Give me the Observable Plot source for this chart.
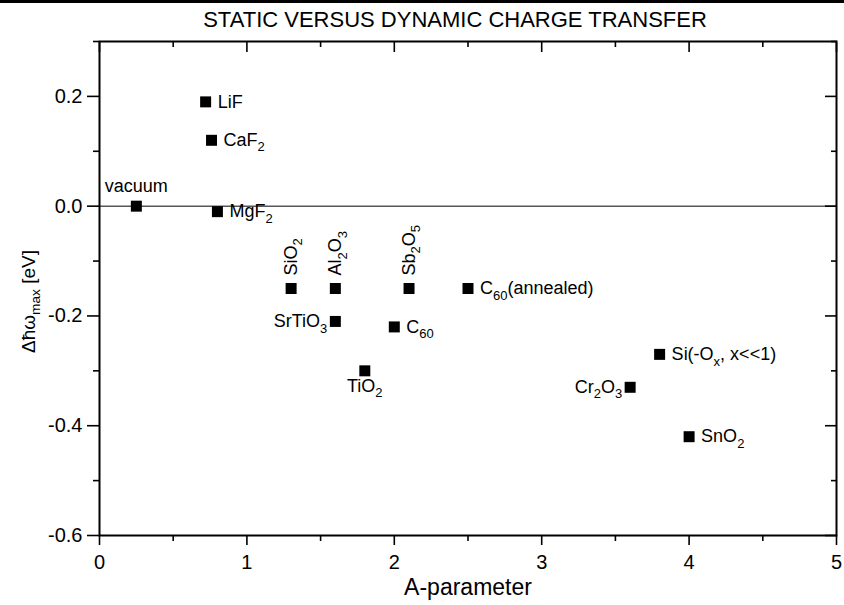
<!DOCTYPE html>
<html>
<head>
<meta charset="utf-8">
<script src="https://cdn.jsdelivr.net/npm/d3@7"></script>
<script src="https://cdn.jsdelivr.net/npm/@observablehq/plot@0.6"></script>
<style>
  body { margin: 0; background: #fff; }
  #wrap { position: relative; width: 844px; height: 605px; background: #fff; overflow: hidden;
          font-family: "Liberation Sans", Arial, Helvetica, sans-serif; color: #000; }
  #topline { position: absolute; left: 0; top: 0; width: 844px; height: 3px; background: #000; }
  #title { position: absolute; left: 455px; top: 7px; transform: translateX(-50%); white-space: nowrap;
           font-size: 22px; line-height: 26px; }
  #chart { position: absolute; left: 0; top: 31px; }
</style>
</head>
<body>
<div id="wrap">
  <div id="topline"></div>
  <div id="title">STATIC VERSUS DYNAMIC CHARGE TRANSFER</div>
  <div id="chart"></div>
</div>
<script>
// ---- data ----
const materials = ["vacuum", "LiF", "CaF_{2}", "MgF_{2}", "SiO_{2}", "Al_{2}O_{3}", "Sb_{2}O_{5}",
                   "C_{60}(annealed)", "SrTiO_{3}", "C_{60}", "TiO_{2}", "Si(-O_{x}, x<<1)", "Cr_{2}O_{3}", "SnO_{2}"];
const aParameter = [0.25, 0.72, 0.76, 0.80, 1.30, 1.60, 2.10, 2.50, 1.60, 2.00, 1.80, 3.80, 3.60, 4.00];
const deltaEnergy = [0.00, 0.19, 0.12, -0.01, -0.15, -0.15, -0.15, -0.15, -0.21, -0.22, -0.30, -0.27, -0.33, -0.42];
const labelSide = ["above", "right", "right", "right", "up", "up", "up", "right", "left", "right", "below", "right", "left", "right"];
const xMajorTicks = [0, 1, 2, 3, 4, 5];
const xMinorTicks = [0.5, 1.5, 2.5, 3.5, 4.5];
const yMajorTicks = [-0.6, -0.4, -0.2, 0.0, 0.2];
const yMinorTicks = [-0.5, -0.3, -0.1, 0.1, 0.3];
const xTitle = "A-parameter";
const yTitle = "\u0394\u0127\u03c9_{max} [eV]";

const points = materials.map((name, i) => ({name, a: aParameter[i], d: deltaEnergy[i], side: labelSide[i]}));
const bySide = s => points.filter(p => p.side === s);

const font = '"Liberation Sans", Arial, Helvetica, sans-serif';
const labelSize = 18;

const plot = Plot.plot({
  width: 844,
  height: 574,
  marginTop: 10,
  marginBottom: 70,
  marginLeft: 99,
  marginRight: 8,
  style: {fontFamily: font, fontSize: "20px", color: "#000", background: "#fff", overflow: "visible"},
  x: {domain: [0, 5]},
  y: {domain: [-0.6, 0.3]},
  marks: [
    Plot.ruleY([0], {stroke: "#000", strokeWidth: 1}),
    // bottom axis
    Plot.axisX({ticks: xMajorTicks, tickSize: 10, tickPadding: 9, tickFormat: d => String(d), fontSize: 20, label: null, strokeWidth: 1.6}),
    Plot.axisX({ticks: xMinorTicks, tickSize: 6, tickFormat: () => "", label: null, strokeWidth: 1.6}),
    // top axis (inward)
    Plot.axisX({anchor: "top", ticks: xMajorTicks, tickSize: -10, tickFormat: () => "", label: null, strokeWidth: 1.6}),
    Plot.axisX({anchor: "top", ticks: xMinorTicks, tickSize: -5, tickFormat: () => "", label: null, strokeWidth: 1.6}),
    // left axis
    Plot.axisY({ticks: yMajorTicks, tickSize: 12, tickPadding: 5, tickFormat: d => d.toFixed(1), fontSize: 20, label: null, strokeWidth: 1.6}),
    Plot.axisY({ticks: yMinorTicks, tickSize: 6, tickFormat: () => "", label: null, strokeWidth: 1.6}),
    // right axis (inward)
    Plot.axisY({anchor: "right", ticks: yMajorTicks, tickSize: -12, tickFormat: () => "", label: null, strokeWidth: 1.6}),
    Plot.axisY({anchor: "right", ticks: yMinorTicks, tickSize: -6, tickFormat: () => "", label: null, strokeWidth: 1.6}),
    Plot.frame({stroke: "#000", strokeWidth: 2}),
    // data points
    Plot.dot(points, {x: "a", y: "d", symbol: "square", r: 6.2, fill: "#000", stroke: "none"}),
    // labels
    Plot.text(bySide("right"), {x: "a", y: "d", text: "name", textAnchor: "start", lineAnchor: "middle", dx: 12, dy: 0, fontSize: labelSize}),
    Plot.text(bySide("left"), {x: "a", y: "d", text: "name", textAnchor: "end", lineAnchor: "middle", dx: -8, dy: 0, fontSize: labelSize}),
    Plot.text(bySide("above"), {x: "a", y: "d", text: "name", textAnchor: "middle", lineAnchor: "bottom", dy: -14, fontSize: labelSize}),
    Plot.text(bySide("below"), {x: "a", y: "d", text: "name", textAnchor: "middle", lineAnchor: "top", dy: 8, fontSize: labelSize}),
    Plot.text(bySide("up"), {x: "a", y: "d", text: "name", rotate: -90, textAnchor: "start", lineAnchor: "middle", dy: -13, fontSize: labelSize}),
    // axis titles
    Plot.text([xTitle], {frameAnchor: "bottom", text: d => d, lineAnchor: "middle", dy: 52, fontSize: 23}),
    Plot.text([yTitle], {frameAnchor: "left", text: d => d, rotate: -90, textAnchor: "middle", lineAnchor: "middle", dx: -71, dy: 13, fontSize: 19})
  ]
});

document.getElementById("chart").appendChild(plot);

// turn "_{...}" markup into real subscript tspans
plot.querySelectorAll("text").forEach(t => {
  const s = t.textContent;
  if (!s.includes("_{")) return;
  const fs = parseFloat(getComputedStyle(t).fontSize) || labelSize;
  const shift = 0.3 * fs;
  const ns = "http://www.w3.org/2000/svg";
  while (t.firstChild) t.removeChild(t.firstChild);
  const re = /_\{([^}]*)\}/g;
  let last = 0, m, lowered = false;
  const add = (str, sub) => {
    if (!str) return;
    const ts = document.createElementNS(ns, "tspan");
    ts.textContent = str;
    if (sub) {
      ts.setAttribute("font-size", (0.72 * fs).toFixed(1));
      if (!lowered) ts.setAttribute("dy", shift.toFixed(1));
      lowered = true;
    } else if (lowered) {
      ts.setAttribute("dy", (-shift).toFixed(1));
      lowered = false;
    }
    t.appendChild(ts);
  };
  while ((m = re.exec(s))) {
    add(s.slice(last, m.index), false);
    add(m[1], true);
    last = re.lastIndex;
  }
  add(s.slice(last), false);
});
</script>
</body>
</html>
